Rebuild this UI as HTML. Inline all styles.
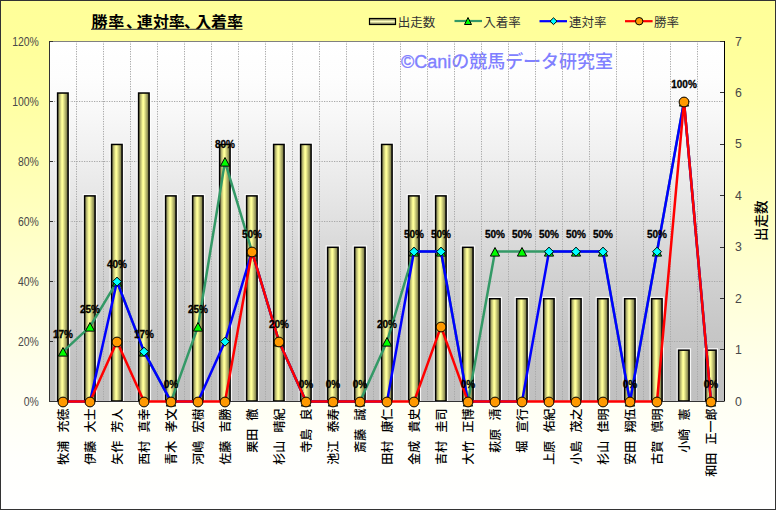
<!DOCTYPE html>
<html lang="ja"><head><meta charset="utf-8"><title>勝率、連対率、入着率</title>
<style>
html,body{margin:0;padding:0;width:776px;height:510px;overflow:hidden;background:#fff}
svg{display:block}
text{font-family:"Liberation Sans","Noto Sans CJK JP",sans-serif}
.jp{font-family:"Noto Sans CJK JP","Liberation Sans",sans-serif}
.ax{font-size:12.3px;fill:#484848}
.dl{font-size:10px;font-weight:bold;fill:#000;stroke:#000;stroke-width:0.3px}
.cat{font-size:12px;fill:#000;font-weight:500}
.lg{font-size:12.5px;fill:#333}
</style></head><body>
<svg width="776" height="510" viewBox="0 0 776 510">
<defs>
<linearGradient id="bg" x1="0" y1="0" x2="0" y2="1">
<stop offset="0.00" stop-color="#FFFF99"/><stop offset="0.10" stop-color="#FFFF9C"/><stop offset="0.20" stop-color="#FFFFA4"/><stop offset="0.30" stop-color="#FFFFAF"/><stop offset="0.40" stop-color="#FFFFBD"/><stop offset="0.50" stop-color="#FFFFCC"/><stop offset="0.60" stop-color="#FFFFDB"/><stop offset="0.70" stop-color="#FFFFE9"/><stop offset="0.80" stop-color="#FFFFF4"/><stop offset="0.90" stop-color="#FFFFFC"/><stop offset="1.00" stop-color="#FFFFFF"/>
</linearGradient>
<linearGradient id="pa" x1="0" y1="0" x2="0" y2="1">
<stop offset="0.00" stop-color="#FFFFFF"/><stop offset="0.10" stop-color="#FDFDFD"/><stop offset="0.20" stop-color="#F8F8F8"/><stop offset="0.30" stop-color="#F1F1F1"/><stop offset="0.40" stop-color="#E9E9E9"/><stop offset="0.50" stop-color="#E0E0E0"/><stop offset="0.60" stop-color="#D6D6D6"/><stop offset="0.70" stop-color="#CECECE"/><stop offset="0.80" stop-color="#C7C7C7"/><stop offset="0.90" stop-color="#C2C2C2"/><stop offset="1.00" stop-color="#C0C0C0"/>
</linearGradient>
<linearGradient id="bar" x1="0" y1="0" x2="1" y2="0">
<stop offset="0" stop-color="#74744A"/><stop offset="0.40" stop-color="#FFFF99"/><stop offset="0.49" stop-color="#FFFF99"/><stop offset="1" stop-color="#62623A"/>
</linearGradient>
<linearGradient id="lbar" x1="0" y1="0" x2="0" y2="1">
<stop offset="0" stop-color="#6E6E44"/><stop offset="0.5" stop-color="#FFFFC0"/><stop offset="1" stop-color="#6E6E44"/>
</linearGradient>
</defs>

<rect x="0.5" y="0.5" width="775" height="509" fill="url(#bg)" stroke="#333" stroke-width="1"/>
<rect x="49" y="41" width="675" height="360" fill="url(#pa)"/>
<text x="401" y="68" style="font-size:18px;font-weight:500;fill:#8080FF" textLength="212" lengthAdjust="spacingAndGlyphs"><tspan stroke="#8080FF" stroke-width="0.35">©Cani</tspan>の競馬データ研究室</text>
<path d="M49 341.5H724M49 281.5H724M49 221.5H724M49 161.5H724M49 101.5H724M76.5 41V401M103.5 41V401M130.5 41V401M157.5 41V401M184.5 41V401M211.5 41V401M238.5 41V401M265.5 41V401M292.5 41V401M319.5 41V401M346.5 41V401M373.5 41V401M400.5 41V401M427.5 41V401M454.5 41V401M481.5 41V401M508.5 41V401M535.5 41V401M562.5 41V401M589.5 41V401M616.5 41V401M643.5 41V401M670.5 41V401M697.5 41V401" stroke="#a8a8a8" stroke-width="1" stroke-dasharray="1.25 1.25" fill="none"/>
<path d="M49 41.5H724" stroke="#808080" stroke-width="1"/>
<rect x="57.60" y="93.03" width="10.5" height="307.97" fill="none" stroke="#fff" stroke-opacity="0.85" stroke-width="4"/>
<rect x="57.60" y="93.03" width="10.5" height="307.97" fill="url(#bar)" stroke="#000" stroke-width="1.5"/>
<rect x="84.60" y="195.89" width="10.5" height="205.11" fill="none" stroke="#fff" stroke-opacity="0.85" stroke-width="4"/>
<rect x="84.60" y="195.89" width="10.5" height="205.11" fill="url(#bar)" stroke="#000" stroke-width="1.5"/>
<rect x="111.60" y="144.46" width="10.5" height="256.54" fill="none" stroke="#fff" stroke-opacity="0.85" stroke-width="4"/>
<rect x="111.60" y="144.46" width="10.5" height="256.54" fill="url(#bar)" stroke="#000" stroke-width="1.5"/>
<rect x="138.60" y="93.03" width="10.5" height="307.97" fill="none" stroke="#fff" stroke-opacity="0.85" stroke-width="4"/>
<rect x="138.60" y="93.03" width="10.5" height="307.97" fill="url(#bar)" stroke="#000" stroke-width="1.5"/>
<rect x="165.60" y="195.89" width="10.5" height="205.11" fill="none" stroke="#fff" stroke-opacity="0.85" stroke-width="4"/>
<rect x="165.60" y="195.89" width="10.5" height="205.11" fill="url(#bar)" stroke="#000" stroke-width="1.5"/>
<rect x="192.60" y="195.89" width="10.5" height="205.11" fill="none" stroke="#fff" stroke-opacity="0.85" stroke-width="4"/>
<rect x="192.60" y="195.89" width="10.5" height="205.11" fill="url(#bar)" stroke="#000" stroke-width="1.5"/>
<rect x="219.60" y="144.46" width="10.5" height="256.54" fill="none" stroke="#fff" stroke-opacity="0.85" stroke-width="4"/>
<rect x="219.60" y="144.46" width="10.5" height="256.54" fill="url(#bar)" stroke="#000" stroke-width="1.5"/>
<rect x="246.60" y="195.89" width="10.5" height="205.11" fill="none" stroke="#fff" stroke-opacity="0.85" stroke-width="4"/>
<rect x="246.60" y="195.89" width="10.5" height="205.11" fill="url(#bar)" stroke="#000" stroke-width="1.5"/>
<rect x="273.60" y="144.46" width="10.5" height="256.54" fill="none" stroke="#fff" stroke-opacity="0.85" stroke-width="4"/>
<rect x="273.60" y="144.46" width="10.5" height="256.54" fill="url(#bar)" stroke="#000" stroke-width="1.5"/>
<rect x="300.60" y="144.46" width="10.5" height="256.54" fill="none" stroke="#fff" stroke-opacity="0.85" stroke-width="4"/>
<rect x="300.60" y="144.46" width="10.5" height="256.54" fill="url(#bar)" stroke="#000" stroke-width="1.5"/>
<rect x="327.60" y="247.31" width="10.5" height="153.69" fill="none" stroke="#fff" stroke-opacity="0.85" stroke-width="4"/>
<rect x="327.60" y="247.31" width="10.5" height="153.69" fill="url(#bar)" stroke="#000" stroke-width="1.5"/>
<rect x="354.60" y="247.31" width="10.5" height="153.69" fill="none" stroke="#fff" stroke-opacity="0.85" stroke-width="4"/>
<rect x="354.60" y="247.31" width="10.5" height="153.69" fill="url(#bar)" stroke="#000" stroke-width="1.5"/>
<rect x="381.60" y="144.46" width="10.5" height="256.54" fill="none" stroke="#fff" stroke-opacity="0.85" stroke-width="4"/>
<rect x="381.60" y="144.46" width="10.5" height="256.54" fill="url(#bar)" stroke="#000" stroke-width="1.5"/>
<rect x="408.60" y="195.89" width="10.5" height="205.11" fill="none" stroke="#fff" stroke-opacity="0.85" stroke-width="4"/>
<rect x="408.60" y="195.89" width="10.5" height="205.11" fill="url(#bar)" stroke="#000" stroke-width="1.5"/>
<rect x="435.60" y="195.89" width="10.5" height="205.11" fill="none" stroke="#fff" stroke-opacity="0.85" stroke-width="4"/>
<rect x="435.60" y="195.89" width="10.5" height="205.11" fill="url(#bar)" stroke="#000" stroke-width="1.5"/>
<rect x="462.60" y="247.31" width="10.5" height="153.69" fill="none" stroke="#fff" stroke-opacity="0.85" stroke-width="4"/>
<rect x="462.60" y="247.31" width="10.5" height="153.69" fill="url(#bar)" stroke="#000" stroke-width="1.5"/>
<rect x="489.60" y="298.74" width="10.5" height="102.26" fill="none" stroke="#fff" stroke-opacity="0.85" stroke-width="4"/>
<rect x="489.60" y="298.74" width="10.5" height="102.26" fill="url(#bar)" stroke="#000" stroke-width="1.5"/>
<rect x="516.60" y="298.74" width="10.5" height="102.26" fill="none" stroke="#fff" stroke-opacity="0.85" stroke-width="4"/>
<rect x="516.60" y="298.74" width="10.5" height="102.26" fill="url(#bar)" stroke="#000" stroke-width="1.5"/>
<rect x="543.60" y="298.74" width="10.5" height="102.26" fill="none" stroke="#fff" stroke-opacity="0.85" stroke-width="4"/>
<rect x="543.60" y="298.74" width="10.5" height="102.26" fill="url(#bar)" stroke="#000" stroke-width="1.5"/>
<rect x="570.60" y="298.74" width="10.5" height="102.26" fill="none" stroke="#fff" stroke-opacity="0.85" stroke-width="4"/>
<rect x="570.60" y="298.74" width="10.5" height="102.26" fill="url(#bar)" stroke="#000" stroke-width="1.5"/>
<rect x="597.60" y="298.74" width="10.5" height="102.26" fill="none" stroke="#fff" stroke-opacity="0.85" stroke-width="4"/>
<rect x="597.60" y="298.74" width="10.5" height="102.26" fill="url(#bar)" stroke="#000" stroke-width="1.5"/>
<rect x="624.60" y="298.74" width="10.5" height="102.26" fill="none" stroke="#fff" stroke-opacity="0.85" stroke-width="4"/>
<rect x="624.60" y="298.74" width="10.5" height="102.26" fill="url(#bar)" stroke="#000" stroke-width="1.5"/>
<rect x="651.60" y="298.74" width="10.5" height="102.26" fill="none" stroke="#fff" stroke-opacity="0.85" stroke-width="4"/>
<rect x="651.60" y="298.74" width="10.5" height="102.26" fill="url(#bar)" stroke="#000" stroke-width="1.5"/>
<rect x="678.60" y="350.17" width="10.5" height="50.83" fill="none" stroke="#fff" stroke-opacity="0.85" stroke-width="4"/>
<rect x="678.60" y="350.17" width="10.5" height="50.83" fill="url(#bar)" stroke="#000" stroke-width="1.5"/>
<rect x="705.60" y="350.17" width="10.5" height="50.83" fill="none" stroke="#fff" stroke-opacity="0.85" stroke-width="4"/>
<rect x="705.60" y="350.17" width="10.5" height="50.83" fill="url(#bar)" stroke="#000" stroke-width="1.5"/>
<path d="M49.5 41V401.5H724" stroke="#333" stroke-width="1" fill="none"/>
<path d="M724.5 41V401.5" stroke="#000" stroke-width="1" fill="none"/>
<path d="M49 401.5h4M49 341.5h4M49 281.5h4M49 221.5h4M49 161.5h4M49 101.5h4M49 41.5h4M724 401.5h-4M724 349.5h-4M724 298.5h-4M724 247.5h-4M724 195.5h-4M724 144.5h-4M724 92.5h-4M724 41.5h-4" stroke="#333" stroke-width="1"/>
<polyline points="63.00,351.60 90.00,326.60 117.00,281.60 144.00,351.60 171.00,401.60 198.00,326.60 225.00,161.60 252.00,251.60 279.00,341.60 306.00,401.60 333.00,401.60 360.00,401.60 387.00,341.60 414.00,251.60 441.00,251.60 468.00,401.60 495.00,251.60 522.00,251.60 549.00,251.60 576.00,251.60 603.00,251.60 630.00,401.60 657.00,251.60 684.00,101.60 711.00,401.60" fill="none" stroke="#339966" stroke-width="2.5" stroke-linejoin="round"/>
<path d="M63.00 347.50L67.60 356.10H58.40Z" fill="#00FF00" stroke="#000" stroke-width="1"/>
<path d="M90.00 322.50L94.60 331.10H85.40Z" fill="#00FF00" stroke="#000" stroke-width="1"/>
<path d="M117.00 277.50L121.60 286.10H112.40Z" fill="#00FF00" stroke="#000" stroke-width="1"/>
<path d="M144.00 347.50L148.60 356.10H139.40Z" fill="#00FF00" stroke="#000" stroke-width="1"/>
<path d="M171.00 397.50L175.60 406.10H166.40Z" fill="#00FF00" stroke="#000" stroke-width="1"/>
<path d="M198.00 322.50L202.60 331.10H193.40Z" fill="#00FF00" stroke="#000" stroke-width="1"/>
<path d="M225.00 157.50L229.60 166.10H220.40Z" fill="#00FF00" stroke="#000" stroke-width="1"/>
<path d="M252.00 247.50L256.60 256.10H247.40Z" fill="#00FF00" stroke="#000" stroke-width="1"/>
<path d="M279.00 337.50L283.60 346.10H274.40Z" fill="#00FF00" stroke="#000" stroke-width="1"/>
<path d="M306.00 397.50L310.60 406.10H301.40Z" fill="#00FF00" stroke="#000" stroke-width="1"/>
<path d="M333.00 397.50L337.60 406.10H328.40Z" fill="#00FF00" stroke="#000" stroke-width="1"/>
<path d="M360.00 397.50L364.60 406.10H355.40Z" fill="#00FF00" stroke="#000" stroke-width="1"/>
<path d="M387.00 337.50L391.60 346.10H382.40Z" fill="#00FF00" stroke="#000" stroke-width="1"/>
<path d="M414.00 247.50L418.60 256.10H409.40Z" fill="#00FF00" stroke="#000" stroke-width="1"/>
<path d="M441.00 247.50L445.60 256.10H436.40Z" fill="#00FF00" stroke="#000" stroke-width="1"/>
<path d="M468.00 397.50L472.60 406.10H463.40Z" fill="#00FF00" stroke="#000" stroke-width="1"/>
<path d="M495.00 247.50L499.60 256.10H490.40Z" fill="#00FF00" stroke="#000" stroke-width="1"/>
<path d="M522.00 247.50L526.60 256.10H517.40Z" fill="#00FF00" stroke="#000" stroke-width="1"/>
<path d="M549.00 247.50L553.60 256.10H544.40Z" fill="#00FF00" stroke="#000" stroke-width="1"/>
<path d="M576.00 247.50L580.60 256.10H571.40Z" fill="#00FF00" stroke="#000" stroke-width="1"/>
<path d="M603.00 247.50L607.60 256.10H598.40Z" fill="#00FF00" stroke="#000" stroke-width="1"/>
<path d="M630.00 397.50L634.60 406.10H625.40Z" fill="#00FF00" stroke="#000" stroke-width="1"/>
<path d="M657.00 247.50L661.60 256.10H652.40Z" fill="#00FF00" stroke="#000" stroke-width="1"/>
<path d="M684.00 97.50L688.60 106.10H679.40Z" fill="#00FF00" stroke="#000" stroke-width="1"/>
<path d="M711.00 397.50L715.60 406.10H706.40Z" fill="#00FF00" stroke="#000" stroke-width="1"/>
<polyline points="63.00,401.60 90.00,401.60 117.00,281.60 144.00,351.60 171.00,401.60 198.00,401.60 225.00,341.60 252.00,251.60 279.00,341.60 306.00,401.60 333.00,401.60 360.00,401.60 387.00,401.60 414.00,251.60 441.00,251.60 468.00,401.60 495.00,401.60 522.00,401.60 549.00,251.60 576.00,251.60 603.00,251.60 630.00,401.60 657.00,251.60 684.00,101.60 711.00,401.60" fill="none" stroke="#0000FF" stroke-width="2.5" stroke-linejoin="round"/>
<path d="M63.00 397.20L67.50 401.70L63.00 406.20L58.50 401.70Z" fill="#00FFFF" stroke="#000" stroke-width="1"/>
<path d="M90.00 397.20L94.50 401.70L90.00 406.20L85.50 401.70Z" fill="#00FFFF" stroke="#000" stroke-width="1"/>
<path d="M117.00 277.20L121.50 281.70L117.00 286.20L112.50 281.70Z" fill="#00FFFF" stroke="#000" stroke-width="1"/>
<path d="M144.00 347.20L148.50 351.70L144.00 356.20L139.50 351.70Z" fill="#00FFFF" stroke="#000" stroke-width="1"/>
<path d="M171.00 397.20L175.50 401.70L171.00 406.20L166.50 401.70Z" fill="#00FFFF" stroke="#000" stroke-width="1"/>
<path d="M198.00 397.20L202.50 401.70L198.00 406.20L193.50 401.70Z" fill="#00FFFF" stroke="#000" stroke-width="1"/>
<path d="M225.00 337.20L229.50 341.70L225.00 346.20L220.50 341.70Z" fill="#00FFFF" stroke="#000" stroke-width="1"/>
<path d="M252.00 247.20L256.50 251.70L252.00 256.20L247.50 251.70Z" fill="#00FFFF" stroke="#000" stroke-width="1"/>
<path d="M279.00 337.20L283.50 341.70L279.00 346.20L274.50 341.70Z" fill="#00FFFF" stroke="#000" stroke-width="1"/>
<path d="M306.00 397.20L310.50 401.70L306.00 406.20L301.50 401.70Z" fill="#00FFFF" stroke="#000" stroke-width="1"/>
<path d="M333.00 397.20L337.50 401.70L333.00 406.20L328.50 401.70Z" fill="#00FFFF" stroke="#000" stroke-width="1"/>
<path d="M360.00 397.20L364.50 401.70L360.00 406.20L355.50 401.70Z" fill="#00FFFF" stroke="#000" stroke-width="1"/>
<path d="M387.00 397.20L391.50 401.70L387.00 406.20L382.50 401.70Z" fill="#00FFFF" stroke="#000" stroke-width="1"/>
<path d="M414.00 247.20L418.50 251.70L414.00 256.20L409.50 251.70Z" fill="#00FFFF" stroke="#000" stroke-width="1"/>
<path d="M441.00 247.20L445.50 251.70L441.00 256.20L436.50 251.70Z" fill="#00FFFF" stroke="#000" stroke-width="1"/>
<path d="M468.00 397.20L472.50 401.70L468.00 406.20L463.50 401.70Z" fill="#00FFFF" stroke="#000" stroke-width="1"/>
<path d="M495.00 397.20L499.50 401.70L495.00 406.20L490.50 401.70Z" fill="#00FFFF" stroke="#000" stroke-width="1"/>
<path d="M522.00 397.20L526.50 401.70L522.00 406.20L517.50 401.70Z" fill="#00FFFF" stroke="#000" stroke-width="1"/>
<path d="M549.00 247.20L553.50 251.70L549.00 256.20L544.50 251.70Z" fill="#00FFFF" stroke="#000" stroke-width="1"/>
<path d="M576.00 247.20L580.50 251.70L576.00 256.20L571.50 251.70Z" fill="#00FFFF" stroke="#000" stroke-width="1"/>
<path d="M603.00 247.20L607.50 251.70L603.00 256.20L598.50 251.70Z" fill="#00FFFF" stroke="#000" stroke-width="1"/>
<path d="M630.00 397.20L634.50 401.70L630.00 406.20L625.50 401.70Z" fill="#00FFFF" stroke="#000" stroke-width="1"/>
<path d="M657.00 247.20L661.50 251.70L657.00 256.20L652.50 251.70Z" fill="#00FFFF" stroke="#000" stroke-width="1"/>
<path d="M684.00 97.20L688.50 101.70L684.00 106.20L679.50 101.70Z" fill="#00FFFF" stroke="#000" stroke-width="1"/>
<path d="M711.00 397.20L715.50 401.70L711.00 406.20L706.50 401.70Z" fill="#00FFFF" stroke="#000" stroke-width="1"/>
<polyline points="63.00,401.60 90.00,401.60 117.00,341.60 144.00,401.60 171.00,401.60 198.00,401.60 225.00,401.60 252.00,251.60 279.00,341.60 306.00,401.60 333.00,401.60 360.00,401.60 387.00,401.60 414.00,401.60 441.00,326.60 468.00,401.60 495.00,401.60 522.00,401.60 549.00,401.60 576.00,401.60 603.00,401.60 630.00,401.60 657.00,401.60 684.00,101.60 711.00,401.60" fill="none" stroke="#FF0000" stroke-width="2.5" stroke-linejoin="round"/>
<circle cx="63.00" cy="402.00" r="4.9" fill="#FF9900" stroke="#000" stroke-width="1"/>
<circle cx="90.00" cy="402.00" r="4.9" fill="#FF9900" stroke="#000" stroke-width="1"/>
<circle cx="117.00" cy="342.00" r="4.9" fill="#FF9900" stroke="#000" stroke-width="1"/>
<circle cx="144.00" cy="402.00" r="4.9" fill="#FF9900" stroke="#000" stroke-width="1"/>
<circle cx="171.00" cy="402.00" r="4.9" fill="#FF9900" stroke="#000" stroke-width="1"/>
<circle cx="198.00" cy="402.00" r="4.9" fill="#FF9900" stroke="#000" stroke-width="1"/>
<circle cx="225.00" cy="402.00" r="4.9" fill="#FF9900" stroke="#000" stroke-width="1"/>
<circle cx="252.00" cy="252.00" r="4.9" fill="#FF9900" stroke="#000" stroke-width="1"/>
<circle cx="279.00" cy="342.00" r="4.9" fill="#FF9900" stroke="#000" stroke-width="1"/>
<circle cx="306.00" cy="402.00" r="4.9" fill="#FF9900" stroke="#000" stroke-width="1"/>
<circle cx="333.00" cy="402.00" r="4.9" fill="#FF9900" stroke="#000" stroke-width="1"/>
<circle cx="360.00" cy="402.00" r="4.9" fill="#FF9900" stroke="#000" stroke-width="1"/>
<circle cx="387.00" cy="402.00" r="4.9" fill="#FF9900" stroke="#000" stroke-width="1"/>
<circle cx="414.00" cy="402.00" r="4.9" fill="#FF9900" stroke="#000" stroke-width="1"/>
<circle cx="441.00" cy="327.00" r="4.9" fill="#FF9900" stroke="#000" stroke-width="1"/>
<circle cx="468.00" cy="402.00" r="4.9" fill="#FF9900" stroke="#000" stroke-width="1"/>
<circle cx="495.00" cy="402.00" r="4.9" fill="#FF9900" stroke="#000" stroke-width="1"/>
<circle cx="522.00" cy="402.00" r="4.9" fill="#FF9900" stroke="#000" stroke-width="1"/>
<circle cx="549.00" cy="402.00" r="4.9" fill="#FF9900" stroke="#000" stroke-width="1"/>
<circle cx="576.00" cy="402.00" r="4.9" fill="#FF9900" stroke="#000" stroke-width="1"/>
<circle cx="603.00" cy="402.00" r="4.9" fill="#FF9900" stroke="#000" stroke-width="1"/>
<circle cx="630.00" cy="402.00" r="4.9" fill="#FF9900" stroke="#000" stroke-width="1"/>
<circle cx="657.00" cy="402.00" r="4.9" fill="#FF9900" stroke="#000" stroke-width="1"/>
<circle cx="684.00" cy="102.00" r="4.9" fill="#FF9900" stroke="#000" stroke-width="1"/>
<circle cx="711.00" cy="402.00" r="4.9" fill="#FF9900" stroke="#000" stroke-width="1"/>
<text class="dl" x="63.00" y="337.60" text-anchor="middle">17%</text>
<text class="dl" x="90.00" y="312.60" text-anchor="middle">25%</text>
<text class="dl" x="117.00" y="267.60" text-anchor="middle">40%</text>
<text class="dl" x="144.00" y="337.60" text-anchor="middle">17%</text>
<text class="dl" x="171.00" y="387.60" text-anchor="middle">0%</text>
<text class="dl" x="198.00" y="312.60" text-anchor="middle">25%</text>
<text class="dl" x="225.00" y="147.60" text-anchor="middle">80%</text>
<text class="dl" x="252.00" y="237.60" text-anchor="middle">50%</text>
<text class="dl" x="279.00" y="327.60" text-anchor="middle">20%</text>
<text class="dl" x="306.00" y="387.60" text-anchor="middle">0%</text>
<text class="dl" x="333.00" y="387.60" text-anchor="middle">0%</text>
<text class="dl" x="360.00" y="387.60" text-anchor="middle">0%</text>
<text class="dl" x="387.00" y="327.60" text-anchor="middle">20%</text>
<text class="dl" x="414.00" y="237.60" text-anchor="middle">50%</text>
<text class="dl" x="441.00" y="237.60" text-anchor="middle">50%</text>
<text class="dl" x="468.00" y="387.60" text-anchor="middle">0%</text>
<text class="dl" x="495.00" y="237.60" text-anchor="middle">50%</text>
<text class="dl" x="522.00" y="237.60" text-anchor="middle">50%</text>
<text class="dl" x="549.00" y="237.60" text-anchor="middle">50%</text>
<text class="dl" x="576.00" y="237.60" text-anchor="middle">50%</text>
<text class="dl" x="603.00" y="237.60" text-anchor="middle">50%</text>
<text class="dl" x="630.00" y="387.60" text-anchor="middle">0%</text>
<text class="dl" x="657.00" y="237.60" text-anchor="middle">50%</text>
<text class="dl" x="684.00" y="87.60" text-anchor="middle">100%</text>
<text class="dl" x="711.00" y="387.60" text-anchor="middle">0%</text>
<text class="ax" transform="translate(38.9,405.50) scale(0.85,1)" text-anchor="end">0%</text>
<text class="ax" transform="translate(38.9,345.50) scale(0.85,1)" text-anchor="end">20%</text>
<text class="ax" transform="translate(38.9,285.50) scale(0.85,1)" text-anchor="end">40%</text>
<text class="ax" transform="translate(38.9,225.50) scale(0.85,1)" text-anchor="end">60%</text>
<text class="ax" transform="translate(38.9,165.50) scale(0.85,1)" text-anchor="end">80%</text>
<text class="ax" transform="translate(38.9,105.50) scale(0.85,1)" text-anchor="end">100%</text>
<text class="ax" transform="translate(38.9,45.50) scale(0.85,1)" text-anchor="end">120%</text>
<text class="ax" x="735" y="405.50">0</text>
<text class="ax" x="735" y="354.07">1</text>
<text class="ax" x="735" y="302.64">2</text>
<text class="ax" x="735" y="251.21">3</text>
<text class="ax" x="735" y="199.79">4</text>
<text class="ax" x="735" y="148.36">5</text>
<text class="ax" x="735" y="96.93">6</text>
<text class="ax" x="735" y="45.50">7</text>
<text class="jp" transform="translate(766,241) rotate(-90)" style="font-size:13.6px;font-weight:500;fill:#000" textLength="40.5" lengthAdjust="spacingAndGlyphs">出走数</text>
<text class="cat jp" transform="translate(68.00,408.6) rotate(-90)" text-anchor="end">牧浦<tspan dx="-4">　</tspan>充徳</text>
<text class="cat jp" transform="translate(95.00,408.6) rotate(-90)" text-anchor="end">伊藤<tspan dx="-4">　</tspan>大士</text>
<text class="cat jp" transform="translate(122.00,408.6) rotate(-90)" text-anchor="end">矢作<tspan dx="-4">　</tspan>芳人</text>
<text class="cat jp" transform="translate(149.00,408.6) rotate(-90)" text-anchor="end">西村<tspan dx="-4">　</tspan>真幸</text>
<text class="cat jp" transform="translate(176.00,408.6) rotate(-90)" text-anchor="end">青木<tspan dx="-4">　</tspan>孝文</text>
<text class="cat jp" transform="translate(203.00,408.6) rotate(-90)" text-anchor="end">河嶋<tspan dx="-4">　</tspan>宏樹</text>
<text class="cat jp" transform="translate(230.00,408.6) rotate(-90)" text-anchor="end">佐藤<tspan dx="-4">　</tspan>吉勝</text>
<text class="cat jp" transform="translate(257.00,408.6) rotate(-90)" text-anchor="end">栗田<tspan dx="-4">　</tspan>徹</text>
<text class="cat jp" transform="translate(284.00,408.6) rotate(-90)" text-anchor="end">杉山<tspan dx="-4">　</tspan>晴紀</text>
<text class="cat jp" transform="translate(311.00,408.6) rotate(-90)" text-anchor="end">寺島<tspan dx="-4">　</tspan>良</text>
<text class="cat jp" transform="translate(338.00,408.6) rotate(-90)" text-anchor="end">池江<tspan dx="-4">　</tspan>泰寿</text>
<text class="cat jp" transform="translate(365.00,408.6) rotate(-90)" text-anchor="end">斎藤<tspan dx="-4">　</tspan>誠</text>
<text class="cat jp" transform="translate(392.00,408.6) rotate(-90)" text-anchor="end">田村<tspan dx="-4">　</tspan>康仁</text>
<text class="cat jp" transform="translate(419.00,408.6) rotate(-90)" text-anchor="end">金成<tspan dx="-4">　</tspan>貴史</text>
<text class="cat jp" transform="translate(446.00,408.6) rotate(-90)" text-anchor="end">吉村<tspan dx="-4">　</tspan>圭司</text>
<text class="cat jp" transform="translate(473.00,408.6) rotate(-90)" text-anchor="end">大竹<tspan dx="-4">　</tspan>正博</text>
<text class="cat jp" transform="translate(500.00,408.6) rotate(-90)" text-anchor="end">萩原<tspan dx="-4">　</tspan>清</text>
<text class="cat jp" transform="translate(527.00,408.6) rotate(-90)" text-anchor="end">堀<tspan dx="-4">　</tspan>宣行</text>
<text class="cat jp" transform="translate(554.00,408.6) rotate(-90)" text-anchor="end">上原<tspan dx="-4">　</tspan>佑紀</text>
<text class="cat jp" transform="translate(581.00,408.6) rotate(-90)" text-anchor="end">小島<tspan dx="-4">　</tspan>茂之</text>
<text class="cat jp" transform="translate(608.00,408.6) rotate(-90)" text-anchor="end">杉山<tspan dx="-4">　</tspan>佳明</text>
<text class="cat jp" transform="translate(635.00,408.6) rotate(-90)" text-anchor="end">安田<tspan dx="-4">　</tspan>翔伍</text>
<text class="cat jp" transform="translate(662.00,408.6) rotate(-90)" text-anchor="end">古賀<tspan dx="-4">　</tspan>慎明</text>
<text class="cat jp" transform="translate(689.00,408.6) rotate(-90)" text-anchor="end">小崎<tspan dx="-4">　</tspan>憲</text>
<text class="cat jp" transform="translate(716.00,408.6) rotate(-90)" text-anchor="end">和田<tspan dx="-4">　</tspan>正一郎</text>
<text class="jp" x="91.5 108.2 126.0 136.7 152.9 168.7 184.0 195.3 211.1 226.9" y="27.8" style="font-size:16px;font-weight:bold;fill:#000">勝率、連対率、入着率</text>
<path d="M91 29.3H242.5" stroke="#5a5a48" stroke-width="1.3"/>
<rect x="369.5" y="18.5" width="26" height="6" fill="url(#lbar)" stroke="#000" stroke-width="1.2"/>
<text class="lg jp" x="397.8" y="26.9">出走数</text>
<path d="M454.5 21H482" stroke="#339966" stroke-width="2.2"/>
<path d="M468 17.5L471.5 24.5H464.5Z" fill="#00FF00" stroke="#000" stroke-width="1"/>
<text class="lg jp" x="483.3" y="26.9">入着率</text>
<path d="M539.5 21.2H567" stroke="#0000FF" stroke-width="2.2"/>
<path d="M553.5 17.8L557 21.2L553.5 24.6L550 21.2Z" fill="#00FFFF" stroke="#000" stroke-width="1"/>
<text class="lg jp" x="569.1" y="26.9">連対率</text>
<path d="M625 21.2H652.6" stroke="#FF0000" stroke-width="2.2"/>
<circle cx="639.2" cy="21.2" r="3.7" fill="#FF9900" stroke="#000" stroke-width="1"/>
<text class="lg jp" x="654.1" y="26.9">勝率</text>
</svg>
</body></html>
